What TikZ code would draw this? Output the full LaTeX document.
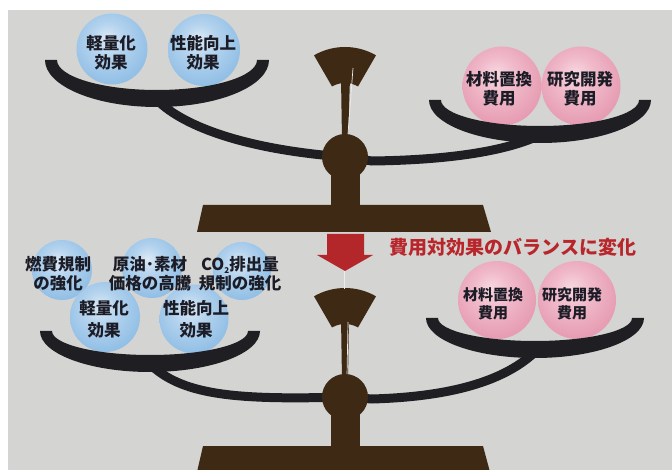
\documentclass[tikz,border=0pt]{standalone}
\usepackage{fontspec}
\newfontfamily\jp{Noto Sans CJK JP}
\usetikzlibrary{calc}

\definecolor{bgc}{HTML}{D4D4D2}
\definecolor{panc}{HTML}{1F1F23}
\definecolor{brownc}{HTML}{3E2914}
\definecolor{arrowred}{HTML}{B3262A}
\definecolor{capred}{HTML}{B8262B}
\definecolor{txtc}{HTML}{1C1C26}
% sphere colours
\definecolor{bA}{HTML}{DCEAF6}
\definecolor{bB}{HTML}{B4D3EE}
\definecolor{bC}{HTML}{82B6E2}
\definecolor{bD}{HTML}{5C9AD4}
\definecolor{pA}{HTML}{F8D8E0}
\definecolor{pB}{HTML}{F0BACA}
\definecolor{pC}{HTML}{E28EA7}
\definecolor{pD}{HTML}{CF5E7E}

\pgfdeclareradialshading{bluesph}{\pgfpoint{-4bp}{8bp}}%
  {color(0bp)=(bA); color(12bp)=(bB); color(36bp)=(bC); color(58bp)=(bD)}
\pgfdeclareradialshading{pinksph}{\pgfpoint{-4bp}{8bp}}%
  {color(0bp)=(pA); color(12bp)=(pB); color(36bp)=(pC); color(58bp)=(pD)}

% crescent pan: centre x, rim y, half width, depth
\newcommand\scalepan[4]{%
  \fill[panc] ({#1-#3},#2) arc[start angle=180,end angle=0,x radius=#3,y radius=#4]
    -- ++(-12,0) arc[start angle=0,end angle=180,x radius={#3-12},y radius={#4-17}] -- cycle;}

% annular sector of the indicator: centre of the arcs
\newcommand\indicator[2]{%
  \fill[brownc] (#1,#2) ++(240:62) arc[start angle=240,end angle=300,radius=62]
    -- ++(120:36) arc[start angle=300,end angle=240,radius=26] -- cycle;}

\tikzset{
  beam/.style={draw=panc, line width=9pt},
  bsph/.style={circle, inner sep=0pt, shading=bluesph},
  psph/.style={circle, inner sep=0pt, shading=pinksph},
  lbl/.style={align=center, text=txtc, inner sep=0pt,
    font=\jp\bfseries\fontsize{16.5}{19}\selectfont},
  lblsmall/.style={lbl, font=\jp\bfseries\fontsize{15}{18}\selectfont},
  lblwide/.style={lbl, font=\jp\bfseries\fontsize{16.5}{22}\selectfont},
  hub/.style={circle, fill=brownc, minimum size=46pt, inner sep=0pt},
  needle/.style={draw=white!85!gray, line width=0.7pt},
}

\begin{document}
\begin{tikzpicture}[x=1pt,y=-1pt]
\useasboundingbox (0,0) rectangle (672,470);
\fill[bgc] (8,10) rectangle (672,470);

% ================= upper balance =================
\coordinate (hubA) at (345,157);
\coordinate (panAL) at (157,100);
\coordinate (panAR) at (538,136);

% spheres
\node[bsph, minimum size=71pt] (sA1) at (112,49) {};
\node[bsph, minimum size=72pt] (sA2) at (204,50) {};
\node[psph, minimum size=79pt] (sA3) at (502,86) {};
\node[psph, minimum size=79pt] (sA4) at (581,86) {};
\node[lbl] (tA1) at (111,53) {軽量化\\効果};
\node[lbl] (tA2) at (203,53) {性能向上\\効果};
\node[lbl] (tA3) at (499,89) {材料置換\\費用};
\node[lbl] (tA4) at (580,89) {研究開発\\費用};

% beam arms
\draw[beam] (panAL) .. controls (185,128) and (250,150) .. (hubA);
\draw[beam] (hubA) -- (372,161) .. controls (450,160) and (505,151) .. (panAR);

% pans
\scalepan{157}{60}{112}{47}
\scalepan{540}{100}{111}{43}

% stand
\fill[brownc] (203,205) -- (483,205) -- (491,232) -- (197,232) -- cycle;
\fill[brownc] (331,160) rectangle (360,207);
\indicator{345}{109}
\fill[brownc] (341,78) -- (350,78) -- (348,140) -- (342,140) -- cycle;
\draw[needle] (353,68) -- (348,134);
\node[hub] (hubAc) at (hubA) {};

% ================= arrow and caption =================
\fill[arrowred] (327,234) -- (364,234) -- (364,255) -- (373,255) -- (345,271)
  -- (317,255) -- (327,255) -- cycle;
\node[text=capred, inner sep=0pt, font=\jp\bfseries\fontsize{19}{22}\selectfont]
  (cap) at (513,247) {費用対効果のバランスに変化};

% ================= lower balance =================
\coordinate (hubB) at (345,397);
\coordinate (panBL) at (152,366);
\coordinate (panBR) at (535,352);

% spheres, back row
\node[bsph, minimum size=60pt] (sB1) at (62,270) {};
\node[bsph, minimum size=60pt] (sB2) at (152,268) {};
\node[bsph, minimum size=58pt] (sB3) at (242,271) {};
% spheres, front row
\node[bsph, minimum size=70pt] (sB4) at (105,317) {};
\node[bsph, minimum size=69pt] (sB5) at (194,319) {};
\node[psph, minimum size=78pt] (sB6) at (497,300) {};
\node[psph, minimum size=78pt] (sB7) at (577,300) {};

\node[lbl] (tB1) at (58,274) {燃費規制\\の強化};
\node[lbl] (tB2) at (150,274) {原油･素材\\価格の高騰};
\node[lbl] (tB3) at (240,274) {CO\raisebox{-0.35ex}{\fontsize{8}{8}\selectfont 2}排出量\\規制の強化};
\node[lblwide] (tB4) at (104,319) {軽量化\\効果};
\node[lblwide] (tB5) at (196,319) {性能向上\\効果};
\node[lblsmall] (tB6) at (493,304) {材料置換\\費用};
\node[lblsmall] (tB7) at (572,304) {研究開発\\費用};

% beam arms
\draw[beam] (panBL) .. controls (185,396) and (240,400) .. (hubB);
\draw[beam] (hubB) -- (372,399) .. controls (440,397) and (500,385) .. (panBR);

% pans
\scalepan{150}{331}{110}{41}
\scalepan{535}{318}{109}{40}

% stand
\fill[brownc] (203,446) -- (483,446) -- (490,472) -- (197,472) -- cycle;
\fill[brownc] (331,400) rectangle (360,448);
\indicator{345}{350}
\fill[brownc] (341,318) -- (349,318) -- (348,380) -- (342,380) -- cycle;
\draw[needle] (344,271) -- (344,289);
\draw[needle] (348,322) -- (347,376);
\node[hub] (hubBc) at (hubB) {};
\end{tikzpicture}
\end{document}
